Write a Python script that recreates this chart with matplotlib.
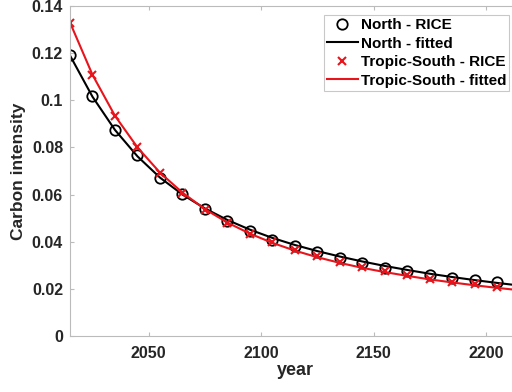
import numpy as np
import matplotlib.pyplot as plt

plt.rcParams['font.family'] = ['Liberation Sans', 'DejaVu Sans']
plt.rcParams['font.weight'] = 'bold'

years = np.arange(2015, 2206, 10)
north_rice = [0.1194, 0.1017, 0.0875, 0.0766, 0.0671, 0.0603, 0.0539, 0.0488,
              0.0445, 0.0407, 0.0380, 0.0355, 0.0330, 0.0310, 0.0288, 0.0275,
              0.0260, 0.0247, 0.0237, 0.0227]
south_rice = [0.1326, 0.1106, 0.0932, 0.0802, 0.0692, 0.0606, 0.0535, 0.0478,
              0.0432, 0.0398, 0.0365, 0.0340, 0.0312, 0.0292, 0.0275, 0.0258,
              0.0243, 0.0230, 0.0220, 0.0210]

fit_years = np.arange(2015, 2216, 10)
north_fit = [0.1190, 0.1015, 0.0874, 0.0762, 0.0672, 0.0600, 0.0541, 0.0492,
             0.0451, 0.0416, 0.0386, 0.0360, 0.0337, 0.0316, 0.0297, 0.0280,
             0.0264, 0.0250, 0.0237, 0.0225, 0.0214]
south_fit = [0.1330, 0.1108, 0.0934, 0.0800, 0.0693, 0.0608, 0.0538, 0.0481,
             0.0434, 0.0395, 0.0362, 0.0334, 0.0310, 0.0289, 0.0271, 0.0255,
             0.0240, 0.0227, 0.0215, 0.0204, 0.0194]

fig = plt.figure(figsize=(5.12, 3.92), dpi=100)
ax = fig.add_axes([70 / 512, 56 / 392, 450 / 512, 330 / 392])

ax.plot(years, north_rice, 'o', mfc='none', mec='k', ms=7.5, mew=1.3,
        label='North - RICE')
ax.plot(fit_years, north_fit, 'k-', lw=1.5, label='North - fitted')
ax.plot(years, south_rice, 'x', color='#e8141b', ms=6, mew=1.5,
        label='Tropic-South - RICE')
ax.plot(fit_years, south_fit, '-', color='#e8141b', lw=1.5,
        label='Tropic-South - fitted')

ax.set_xlim(2015, 2215)
ax.set_ylim(0, 0.14)
ax.set_xticks([2050, 2100, 2150, 2200])
ax.set_yticks([0, 0.02, 0.04, 0.06, 0.08, 0.1, 0.12, 0.14])
ax.set_yticklabels(['0', '0.02', '0.04', '0.06', '0.08', '0.1', '0.12', '0.14'])
ax.tick_params(direction='in', top=True, right=True, labelsize=11.5,
               colors='#bbbbbb', labelcolor='#262626', length=3)
ax.tick_params(axis='x', pad=7)
ax.tick_params(axis='y', pad=5)
for s in ax.spines.values():
    s.set_color('#bbbbbb')
for lab in ax.get_xticklabels() + ax.get_yticklabels():
    lab.set_fontweight('bold')

ax.set_xlabel('year', fontsize=13, fontweight='bold', color='#262626', labelpad=1)
ax.set_ylabel('Carbon intensity', fontsize=12.5, fontweight='bold',
              color='#262626', labelpad=4)

leg = ax.legend(loc='upper left', bbox_to_anchor=(254 / 450, 0.973),
                fontsize=11, frameon=True, fancybox=False, borderpad=0.2,
                labelspacing=0.3, handlelength=2.0, handletextpad=0.2,
                borderaxespad=0)
leg.get_frame().set_edgecolor('#bbbbbb')
leg.get_frame().set_linewidth(0.8)
for t in leg.get_texts():
    t.set_fontweight('bold')

fig.savefig('out.png', dpi=100)
